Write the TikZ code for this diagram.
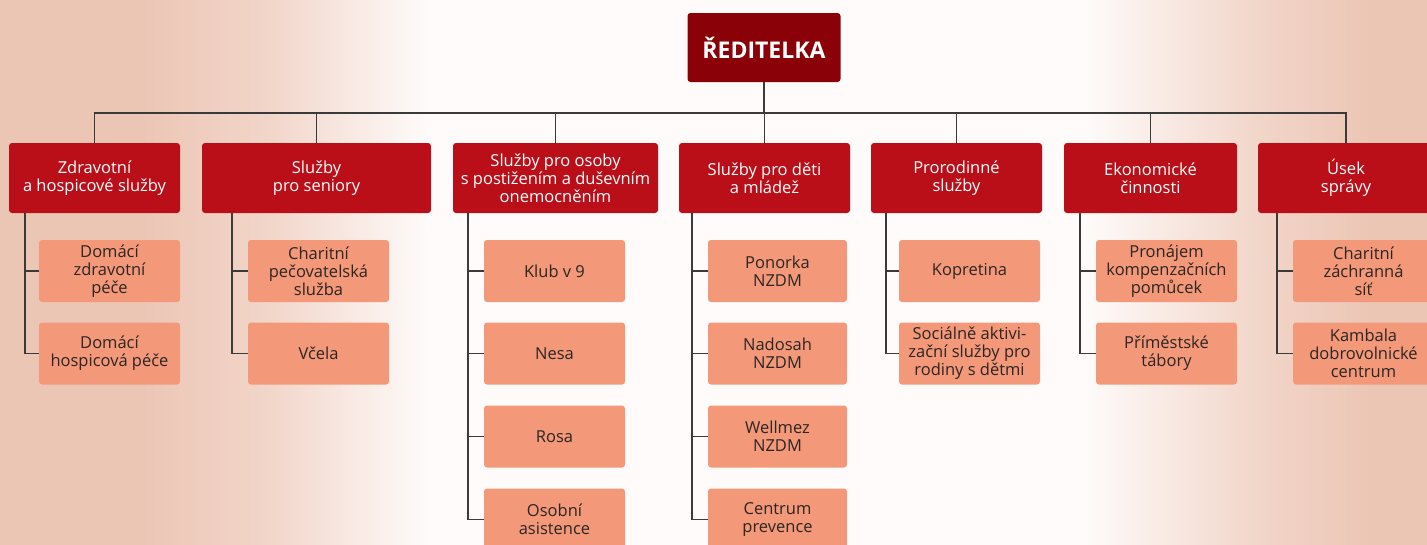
\documentclass[tikz,border=0pt]{standalone}
\usepackage{fontspec}
\setmainfont{Open Sans}
\definecolor{topred}{HTML}{8A0207}
\definecolor{secred}{HTML}{BA0F19}
\definecolor{salmon}{HTML}{F4987A}
\definecolor{ink}{HTML}{2B2523}
\definecolor{linec}{HTML}{3A3A3A}
\definecolor{bgedge}{HTML}{ECC6B5}
\definecolor{bgmid}{HTML}{F2D6CA}
\definecolor{bgcen}{HTML}{FEFBFA}
\pgfdeclarehorizontalshading{bgshade}{100bp}{color(0bp)=(bgedge); color(25bp)=(bgedge); color(30bp)=(bgedge); color(34.5bp)=(bgmid); color(40bp)=(bgcen); color(63bp)=(bgcen); color(69bp)=(bgmid); color(73bp)=(bgedge); color(100bp)=(bgedge)}
\tikzset{
  base/.style={rectangle, rounded corners=3pt, align=center, inner sep=0pt, font=\fontsize{16.5}{18}\selectfont},
  topbox/.style={base, fill=topred, text=white, font=\fontsize{23}{28}\selectfont\bfseries, minimum width=153, minimum height=69},
  secbox/.style={base, fill=secred, text=white, minimum height=70},
  leaf/.style={base, fill=salmon, text=ink, minimum width=141, minimum height=62},
  conn/.style={draw=linec, line width=1.4}
}
\begin{document}
\begin{tikzpicture}[x=1pt,y=-1pt]
\useasboundingbox (0,0) rectangle (1427,544);
\clip (0,0) rectangle (1427,544);
\shade[shading=bgshade] (0,0) rectangle (1427,544);

\node[topbox] (top) at (764,47.5) {ŘEDITELKA};
\coordinate (bus) at (764,113);

\node[secbox, minimum width=171] (s1) at (94.5,178) {Zdravotní\\a hospicové služby};
\node[secbox, minimum width=229] (s2) at (316.5,178) {Služby\\pro seniory};
\node[secbox, minimum width=205] (s3) at (555.5,178) {Služby pro osoby\\s postižením a duševním\\onemocněním};
\node[secbox, minimum width=171] (s4) at (764.5,178) {Služby pro děti\\a mládež};
\node[secbox, minimum width=171] (s5) at (956.5,178) {Prorodinné\\služby};
\node[secbox, minimum width=173] (s6) at (1150.5,178) {Ekonomické\\činnosti};
\node[secbox, minimum width=176] (s7) at (1346,178) {Úsek\\správy};

\node[leaf] (l11) at (109.5,271) {Domácí\\zdravotní\\péče};
\node[leaf] (l12) at (109.5,353.5) {Domácí\\hospicová péče};
\node[leaf] (l21) at (318.5,271) {Charitní\\pečovatelská\\služba};
\node[leaf] (l22) at (318.5,353.5) {Včela};
\node[leaf] (l31) at (554.5,271) {Klub v 9};
\node[leaf] (l32) at (554.5,353.5) {Nesa};
\node[leaf] (l33) at (554.5,436.5) {Rosa};
\node[leaf] (l34) at (554.5,519.5) {Osobní\\asistence};
\node[leaf, minimum width=139] (l41) at (777.5,271) {Ponorka\\NZDM};
\node[leaf, minimum width=139] (l42) at (777.5,353.5) {Nadosah\\NZDM};
\node[leaf, minimum width=139] (l43) at (777.5,436.5) {Wellmez\\NZDM};
\node[leaf, minimum width=139] (l44) at (777.5,519.5) {Centrum\\prevence};
\node[leaf] (l51) at (969.5,271) {Kopretina};
\node[leaf] (l52) at (969.5,353.5) {Sociálně aktivi-\\zační služby pro\\rodiny s dětmi};
\node[leaf] (l61) at (1166.5,271) {Pronájem\\kompenzačních\\pomůcek};
\node[leaf] (l62) at (1166.5,353.5) {Příměstské\\tábory};
\node[leaf] (l71) at (1363.5,271) {Charitní\\záchranná\\síť};
\node[leaf] (l72) at (1363.5,353.5) {Kambala\\dobrovolnické\\centrum};

% bus
\draw[conn] (top.south) -- (bus);
\foreach \s in {s1,s2,s3,s4,s5,s6,s7}{
  \draw[conn] (\s.north) -- (\s.north |- bus) -- (bus);
}
% stems
\coordinate (t1) at (25,0);
\coordinate (t2) at (232,0);
\coordinate (t3) at (468,0);
\coordinate (t4) at (692,0);
\coordinate (t5) at (886,0);
\coordinate (t6) at (1080,0);
\coordinate (t7) at (1277,0);
\draw[conn] (s1.south -| t1) |- (l11.west);
\draw[conn] (s1.south -| t1) |- (l12.west);
\draw[conn] (s2.south -| t2) |- (l21.west);
\draw[conn] (s2.south -| t2) |- (l22.west);
\foreach \i in {1,2,3,4}{
  \draw[conn] (s3.south -| t3) |- (l3\i.west);
  \draw[conn] (s4.south -| t4) |- (l4\i.west);
}
\draw[conn] (s5.south -| t5) |- (l51.west);
\draw[conn] (s5.south -| t5) |- (l52.west);
\draw[conn] (s6.south -| t6) |- (l61.west);
\draw[conn] (s6.south -| t6) |- (l62.west);
\draw[conn] (s7.south -| t7) |- (l71.west);
\draw[conn] (s7.south -| t7) |- (l72.west);
\end{tikzpicture}
\end{document}
